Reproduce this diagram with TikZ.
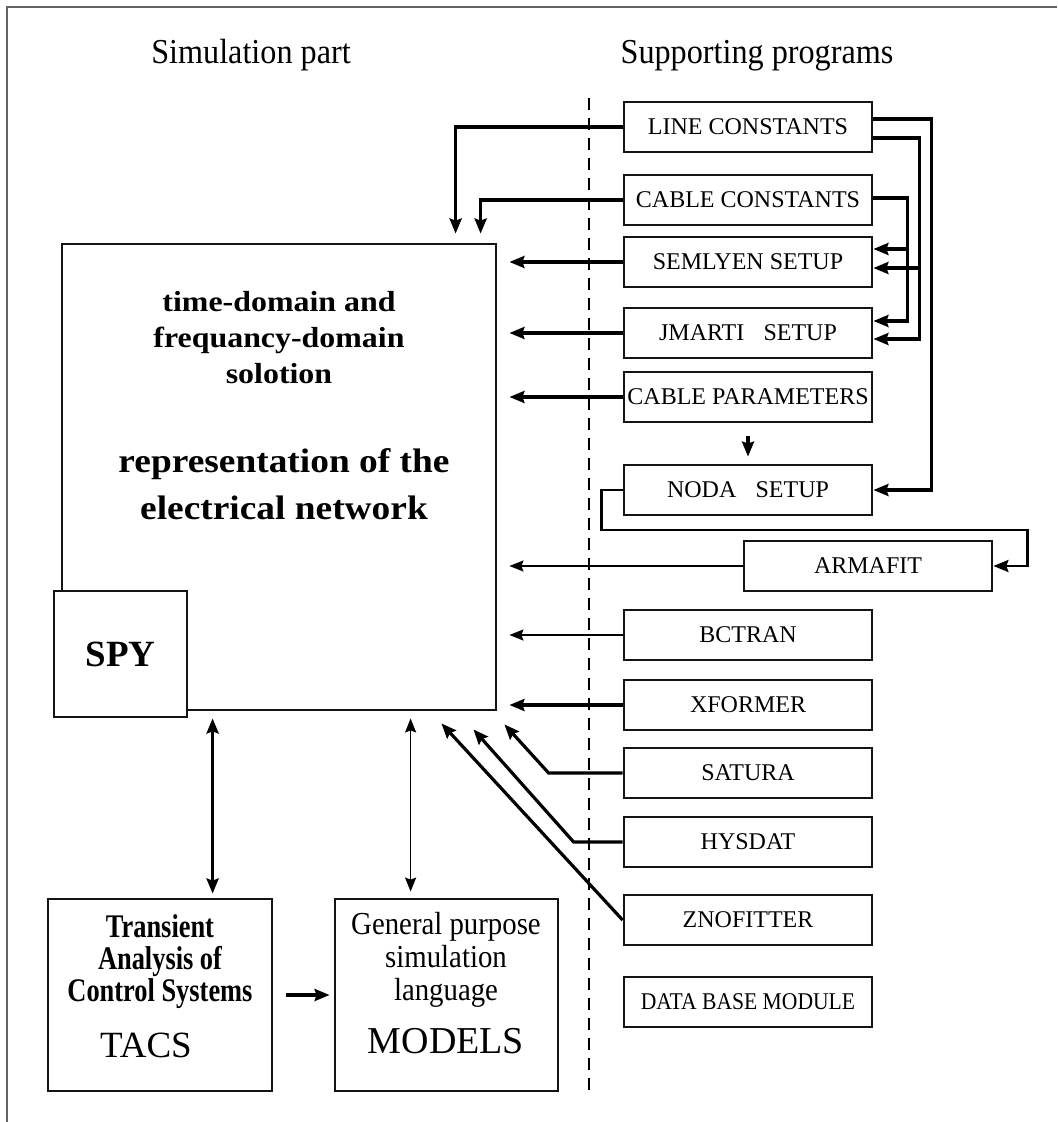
\documentclass[tikz,border=0pt]{standalone}
\usepackage{fontspec}
\setmainfont{Liberation Serif}
\newfontfamily\hdrfont[FakeStretch=0.92]{Liberation Serif}
\newfontfamily\narrowfont[FakeStretch=0.9]{Liberation Serif}
\newfontfamily\condfont[FakeStretch=0.8]{Liberation Serif}
\newfontfamily\widefont[FakeStretch=1.1]{Liberation Serif}
\usetikzlibrary{arrows.meta,calc}
\definecolor{FrameLine}{RGB}{100,100,100}
\definecolor{BoxLine}{RGB}{20,20,20}
\tikzset{
  nd_prog/.style={rectangle,draw=BoxLine,line width=1.4pt,fill=white,minimum width=124pt,minimum height=25pt,inner sep=0pt,font=\fontsize{12}{14}\selectfont},
  nd_main/.style={rectangle,draw=BoxLine,line width=1.4pt,minimum width=217pt,minimum height=233pt,inner sep=0pt},
  nd_spy/.style={rectangle,draw=BoxLine,line width=1.4pt,fill=white,minimum width=66.5pt,minimum height=63pt,inner sep=0pt,font=\bfseries\fontsize{18.5}{20}\selectfont},
  nd_side/.style={rectangle,draw=BoxLine,line width=1.4pt,minimum width=112pt,minimum height=96pt,inner sep=0pt},
  txt_hdr/.style={anchor=base,inner sep=0pt,font=\hdrfont\fontsize{17.5}{20}\selectfont},
  arr_thk/.style={-{Stealth[length=7.5pt,width=6pt,inset=1pt]},line width=1.6pt},
  arr_thn/.style={-{Stealth[length=7pt,width=5.5pt,inset=1pt]},line width=0.8pt},
  dbl_thk/.style={{Stealth[length=7.5pt,width=6pt,inset=1pt]}-{Stealth[length=7.5pt,width=6pt,inset=1pt]},line width=1.6pt},
  dbl_thn/.style={{Stealth[length=7pt,width=5.5pt,inset=1pt]}-{Stealth[length=7pt,width=5.5pt,inset=1pt]},line width=0.8pt},
  divider/.style={dash pattern=on 6pt off 4pt,line width=1pt},
}

\begin{document}
\begin{tikzpicture}[x=0.5pt,y=-0.5pt]
\useasboundingbox (0,0) rectangle (1057,1122);
\draw[FrameLine,line width=1.2pt](7,1122)--(7,7)--(1057,7);
\node[txt_hdr] at (251,64)(HS){Simulation part};
\node[txt_hdr] at (757,64)(HP){Supporting programs};
\draw[divider](589,98)--(589,1095);
% simulation part
\node[nd_main] at (279,477)(NT){};
\node[nd_spy]  at (120.5,654)(SP){SPY};
\node[font=\widefont\bfseries\fontsize{14.5}{18}\selectfont,align=center,inner sep=0pt] at (279,338)(TD){time-domain and\\frequancy-domain\\solotion};
\node[font=\widefont\bfseries\fontsize{17}{23.5}\selectfont,align=center,inner sep=0pt] at (284,484)(RP){representation of the\\electrical network};
\node[nd_side] at (160,995)(TC){};
\node[nd_side,minimum width=111.5pt] at (446.5,995)(MD){};
\node[font=\condfont\bfseries\fontsize{16.5}{16}\selectfont,align=center,inner sep=0pt] at (160,962)(TA){Transient\\Analysis of\\Control Systems};
\node[font=\fontsize{18.5}{20}\selectfont,anchor=base,inner sep=0pt] at (146,1057)(TS){TACS};
\node[font=\narrowfont\fontsize{16}{16.5}\selectfont,align=center,inner sep=0pt] at (446,960)(GP){General purpose\\simulation\\language};
\node[font=\fontsize{19}{20}\selectfont,anchor=base,inner sep=0pt] at (446,1053)(MS){MODELS};
% supporting programs
\node[nd_prog] at (748,127)(LC){LINE CONSTANTS};
\node[nd_prog] at (748,200)(CC){CABLE CONSTANTS};
\node[nd_prog] at (748,262)(SEM){SEMLYEN SETUP};
\node[nd_prog] at (748,333)(JM){JMARTI\hspace{0.8em}SETUP};
\node[nd_prog] at (748,397)(CP){CABLE PARAMETERS};
\node[nd_prog] at (748,490)(NODA){NODA\hspace{0.8em}SETUP};
\node[nd_prog] at (868,566)(ARM){ARMAFIT};
\node[nd_prog] at (748,635)(BCT){BCTRAN};
\node[nd_prog] at (748,705)(XF){XFORMER};
\node[nd_prog] at (748,773)(SAT){SATURA};
\node[nd_prog] at (748,842)(HYS){HYSDAT};
\node[nd_prog] at (748,920)(ZNO){ZNOFITTER};
\node[nd_prog,font=\narrowfont\fontsize{12}{14}\selectfont] at (748,1002)(DBM){DATA BASE MODULE};
% arrows
\draw[arr_thk,shorten >=4.5pt](LC.west)-|($(NT.north west)+(395,0)$);
\draw[arr_thk,shorten >=4.5pt](CC.west)-|($(NT.north west)+(420,0)$);
\foreach \n in {SEM,JM,CP,XF}{\draw[arr_thk,shorten >=6pt](\n.west)--(\n.west -| NT.east);}
\foreach \n in {ARM,BCT}{\draw[arr_thn,shorten >=6pt](\n.west)--(\n.west -| NT.east);}
\draw[arr_thk](SAT.west)--++(-74,0)--($(NT.south east)+(7,13)$);
\draw[arr_thk](HYS.west)--++(-49,0)--($(NT.south east)+(-24,18)$);
\draw[arr_thk](ZNO.west)--($(NT.south east)+(-56,12)$);
\draw[dbl_thk]($(NT.south west)+(152,7)$)--($(TC.north west)+(166,-4)$);
\draw[dbl_thn]($(NT.south west)+(350,7)$)--($(MD.north west)+(77,-6)$);
\draw[arr_thk,shorten <=6.5pt,shorten >=2pt](TC.east)--(MD.west);
\draw[arr_thk,shorten <=6.5pt,shorten >=3.5pt](CP.south)--(NODA.north);
\draw[arr_thk]($(LC.east)+(0,-8)$)--++(58,0)|-(NODA.east);
\draw[arr_thk]($(LC.east)+(0,11)$)--++(46,0)|-($(JM.east)+(0,6)$);
\draw[arr_thk]($(SEM.east)+(46,6)$)--($(SEM.east)+(0,6)$);
\draw[arr_thk]($(CC.east)+(0,-2)$)--++(34,0)|-($(JM.east)+(0,-12)$);
\draw[arr_thk]($(SEM.east)+(34,-13)$)--($(SEM.east)+(0,-13)$);
\draw[arr_thk,line width=1.2pt](NODA.west)--++(-21,0)|-($(ARM.east)+(34,-36)$)|-(ARM.east);
\end{tikzpicture}
\end{document}
